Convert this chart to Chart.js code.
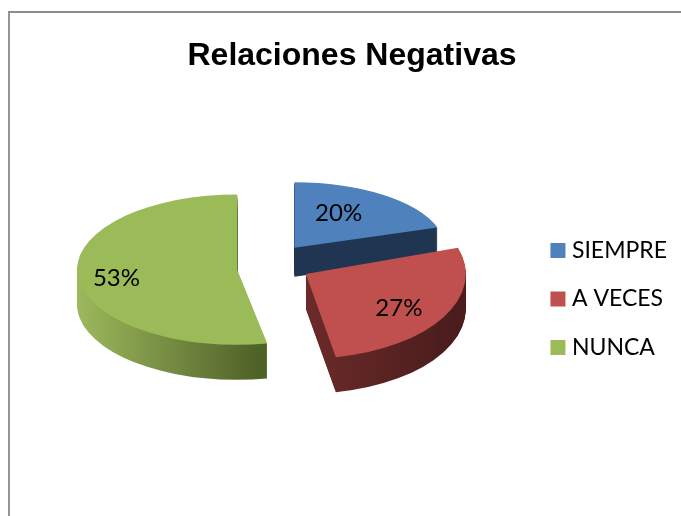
<!DOCTYPE html>
<html>
<head>
<meta charset="utf-8">
<style>
html,body{margin:0;padding:0;background:#fff;overflow:hidden}
#wrap{position:relative;width:681px;height:516px}
#frame{position:absolute;left:8px;top:11px;right:0;bottom:0;border-left:2px solid #949494;border-top:2px solid #8c8c8c}
canvas{position:absolute;left:0;top:0}
</style>
<script src="https://cdn.jsdelivr.net/npm/chart.js@4"></script>
</head>
<body>
<div id="wrap"><div id="frame"></div><canvas id="c" width="681" height="516"></canvas></div>
<script>
const titleText = 'Relaciones Negativas';
const categories = ['SIEMPRE', 'A VECES', 'NUNCA'];
const values = [20, 27, 53];
const topColors = ['#4F81BD', '#C0504D', '#9BBB59'];
const sideColors = [['#1F3552', '#1F3552'], ['#6A2B29', '#4A1C1C'], ['#9DB85C', '#4F6228']];

// 3D look: draw order, depth, explosion and per-slice foreshortening
const drawOrder = [0, 2, 1];
const sliceDepth = [29, 35, 35];
const sliceScaleX = [0.94, 1, 1];
const sliceScaleY = [0.41, 0.53, 0.47];
const sliceShiftY = [-4, 0, 4];
const sceneCenter = { x: 274, y: 264 };
const pieRadius = 160;
const explode = 37;
const labelRadius = [97, 113, 122];
const labelAngleShift = [-7, 4, -3];
const labelFont = '24px Lato';

function place(ctx, arc, i, depth) {
  const bis = (arc.startAngle + arc.endAngle) / 2;
  ctx.translate(sceneCenter.x, sceneCenter.y + sliceShiftY[i] + depth);
  ctx.scale(sliceScaleX[i], sliceScaleY[i]);
  ctx.translate(Math.cos(bis) * explode - arc.x, Math.sin(bis) * explode - arc.y);
}

const pie3d = {
  id: 'pie3d',
  beforeDatasetDraw(chart, args) {
    const ctx = chart.ctx;
    const arcs = args.meta.data;
    drawOrder.forEach(i => {
      const arc = arcs[i];
      const base = arc.options;
      const left = arc.x + Math.min(0, Math.cos(arc.startAngle), Math.cos(arc.endAngle)) * pieRadius;
      const right = arc.x + Math.max(0, Math.cos(arc.startAngle), Math.cos(arc.endAngle)) * pieRadius;
      const grad = ctx.createLinearGradient(i === 2 ? arc.x - pieRadius : left, 0, i === 2 ? arc.x + 20 : right, 0);
      grad.addColorStop(0, sideColors[i][0]);
      grad.addColorStop(1, sideColors[i][1]);
      arc.options = Object.assign({}, base, { backgroundColor: grad });
      for (let d = sliceDepth[i]; d > 0; d--) {
        ctx.save();
        place(ctx, arc, i, d);
        arc.draw(ctx);
        ctx.restore();
      }
      arc.options = base;
      ctx.save();
      place(ctx, arc, i, 0);
      arc.draw(ctx);
      ctx.restore();
    });
    ctx.save();
    ctx.font = labelFont;
    ctx.fillStyle = '#000';
    ctx.textAlign = 'center';
    ctx.textBaseline = 'middle';
    arcs.forEach((arc, i) => {
      const bis = (arc.startAngle + arc.endAngle) / 2;
      const mid = bis + labelAngleShift[i] * Math.PI / 180;
      const lx = Math.cos(bis) * explode + Math.cos(mid) * labelRadius[i];
      const ly = Math.sin(bis) * explode + Math.sin(mid) * labelRadius[i];
      ctx.fillText(values[i] + '%',
        sceneCenter.x + lx * sliceScaleX[i],
        sceneCenter.y + sliceShiftY[i] + ly * sliceScaleY[i]);
    });
    ctx.restore();
    return false;
  }
};

new Chart(document.getElementById('c'), {
  type: 'pie',
  plugins: [pie3d],
  data: {
    labels: categories,
    datasets: [{
      data: values,
      backgroundColor: topColors,
      borderWidth: 0,
      radius: pieRadius
    }]
  },
  options: {
    responsive: false,
    animation: false,
    layout: { padding: { left: 27, right: 4, top: 0, bottom: -82 } },
    plugins: {
      tooltip: { enabled: false },
      title: {
        display: true,
        text: titleText,
        color: '#000',
        font: { family: '"Liberation Sans"', size: 32, weight: 'bold' },
        padding: { top: 37, bottom: 60 }
      },
      legend: {
        position: 'right',
        labels: {
          color: '#000',
          font: { family: 'Lato', size: 23 },
          boxWidth: 5,
          boxHeight: 5,
          padding: 25.5,
          generateLabels(chart) {
            return categories.map((t, i) => ({
              text: t,
              fillStyle: topColors[i],
              strokeStyle: topColors[i],
              lineWidth: 10,
              lineJoin: 'miter',
              index: i
            }));
          }
        }
      }
    }
  }
});
</script>
</body>
</html>
